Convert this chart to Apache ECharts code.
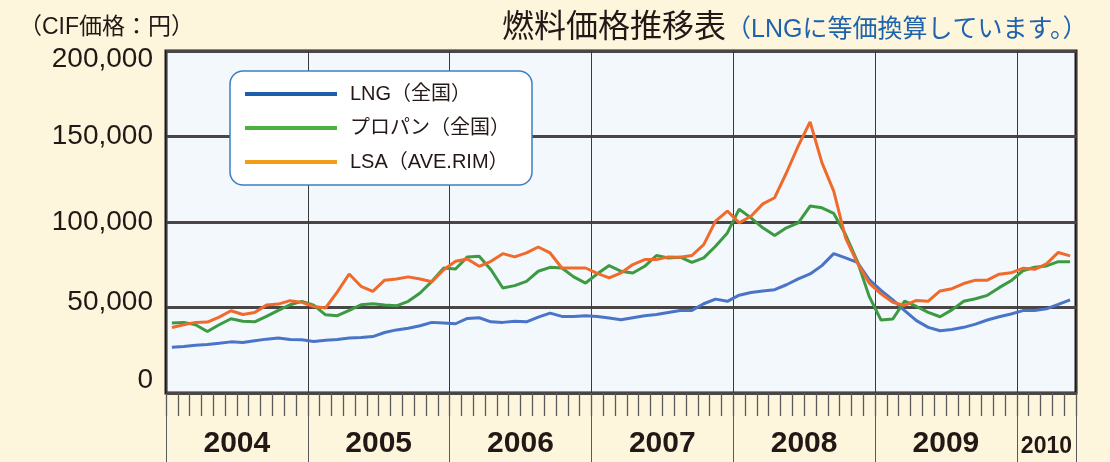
<!DOCTYPE html>
<html>
<head>
<meta charset="utf-8">
<script src="https://cdn.jsdelivr.net/npm/echarts@6/dist/echarts.min.js"></script>
<style>
  html, body { margin: 0; padding: 0; background: #fdf5dc; }
  #chart { width: 1110px; height: 462px; }
</style>
</head>
<body>
<div id="chart"></div>
<script>
// 2004/01 - 2010/05, monthly (yen, CIF)
const years = ['2004', '2005', '2006', '2007', '2008', '2009', '2010']
const monthsLastYear = 5

const lng = [
  26800, 27200, 27900, 28400, 29100, 29900, 29500, 30500, 31500, 32100, 31300, 31100,
  30100, 30900, 31300, 32100, 32500, 33000, 35400, 36900, 37900, 39300, 41300, 40900,
  40500, 43600, 44000, 41600, 41300, 42000, 41600, 44400, 46700, 44800, 44800, 45200,
  44800, 43800, 42800, 44000, 45200, 45900, 47100, 48300, 48300, 52200, 54900, 53600,
  57200, 58800, 59600, 60400, 63300, 66700, 69600, 74500, 81500, 79000, 76400, 66300,
  60000, 54500, 48200, 42300, 38400, 36400, 37100, 38400, 40300, 42700, 44600, 46200,
  48200, 48200, 49200, 51800, 54500
]
const propane = [
  40900, 41300, 39900, 36000, 39900, 43400, 42000, 41600, 44800, 48300, 51600, 53600,
  51400, 45700, 45200, 48300, 51600, 52200, 51400, 51000, 53600, 58500, 65300, 73100,
  72500, 79600, 80000, 72100, 61400, 62800, 65300, 71200, 73500, 73100, 67900, 64300,
  69700, 74500, 71200, 70200, 74100, 80400, 79000, 79400, 76400, 79000, 85800, 93600,
  107500, 102400, 96600, 92100, 96600, 99500, 109300, 108300, 105000, 92700, 77000, 56500,
  42700, 43300, 53700, 50600, 47200, 44600, 48600, 53700, 55100, 57100, 61600, 65600,
  71500, 73500, 74300, 76800, 76800
]
const lsa = [
  38300, 39900, 41300, 41500, 44400, 48100, 45900, 47100, 51400, 52000, 54000, 53000,
  50600, 49700, 59100, 69600, 62400, 59400, 66000, 66700, 67900, 66700, 65100, 72100,
  77000, 78400, 74100, 77000, 81500, 79600, 81900, 85400, 81900, 73100, 73100, 73100,
  70000, 67300, 70200, 75100, 78000, 78000, 79600, 79400, 80400, 86800, 100500, 106400,
  99500, 103400, 110600, 114200, 128800, 144500, 158600, 134700, 118100, 90700, 76000, 64300,
  58000, 53100, 51200, 54100, 53700, 59700, 61000, 64000, 66000, 66000, 69500, 70300,
  72900, 72300, 75500, 82200, 80200
]

const seriesNames = ['LNG（全国）', 'プロパン（全国）', 'LSA（AVE.RIM）']
const lineColors = ['#4a74c8', '#3c9a42', '#f06a2c']
const legendColors = ['#1b5fab', '#4cb23e', '#f39c18']

const months = []
years.forEach((y, yi) => {
  const n = yi === years.length - 1 ? monthsLastYear : 12
  for (let m = 1; m <= n; m++) months.push(y + '/' + (m < 10 ? '0' + m : m))
})

const font = "'Liberation Sans', 'Noto Sans CJK JP', sans-serif"
const ink = '#231815'

const chart = echarts.init(document.getElementById('chart'))

const option = {
  backgroundColor: '#fdf5dc',
  animation: false,
  textStyle: { fontFamily: font, color: ink },
  title: [
    {
      left: 497,
      top: 7,
      text: '{a|燃料価格推移表}{b|（LNGに等価換算しています。）}',
      textStyle: {
        fontWeight: 'normal',
        rich: {
          a: { fontSize: 32, fontWeight: 'normal', color: ink, fontFamily: font },
          b: { fontSize: 25, fontWeight: 'normal', color: '#1d63ad', fontFamily: font, padding: [4, 0, 0, 0] }
        }
      }
    },
    {
      left: 14,
      top: 11,
      text: '（CIF価格：円）',
      textStyle: { fontSize: 23, fontWeight: 'normal', color: ink, fontFamily: font }
    }
  ],
  legend: {
    orient: 'vertical',
    left: 230,
    top: 71,
    padding: [13, 22, 13, 15],
    itemGap: 14,
    itemWidth: 92,
    itemHeight: 4,
    icon: 'rect',
    backgroundColor: '#ffffff',
    borderColor: '#3d7fc2',
    borderWidth: 1.5,
    borderRadius: 13,
    textStyle: { fontSize: 20, color: ink, fontFamily: font, padding: [0, 0, 0, 8] },
    data: seriesNames.map((n, i) => ({ name: n, itemStyle: { color: legendColors[i] } }))
  },
  grid: {
    left: 166,
    right: 34,
    top: 51,
    bottom: 69,
    show: true,
    backgroundColor: '#f3f8fd',
    borderColor: ink,
    borderWidth: 3
  },
  xAxis: [
    {
      type: 'category',
      data: months,
      boundaryGap: true,
      position: 'bottom',
      axisLine: { show: false },
      axisTick: { show: true, interval: 0, length: 23, lineStyle: { color: '#5a5a5a', width: 1.3 } },
      splitLine: {
        show: true,
        interval: (i) => i % 12 === 0,
        lineStyle: { color: '#3a3a3a', width: 1 }
      },
      axisLabel: {
        interval: 0,
        margin: 36,
        formatter: (v, i) => {
          if (i % 12 === 6) return '{y|' + v.slice(0, 4) + '}'
          if (i === 74) return '{s|' + v.slice(0, 4) + '}'
          return ''
        },
        rich: {
          y: { fontSize: 30, fontWeight: 'bold', color: ink, fontFamily: font, padding: [0, 12, 0, 0] },
          s: { fontSize: 23, fontWeight: 'bold', color: ink, fontFamily: font, padding: [6, 0, 0, 0] }
        }
      }
    },
    {
      type: 'category',
      data: months,
      boundaryGap: true,
      position: 'bottom',
      axisLine: { show: false },
      axisTick: { show: true, interval: (i) => i % 12 === 0, length: 70, lineStyle: { color: '#5a5a5a', width: 1 } },
      axisLabel: { show: false },
      splitLine: { show: false }
    }
  ],
  yAxis: {
    type: 'value',
    min: 0,
    max: 200000,
    interval: 50000,
    axisLine: { show: false },
    axisTick: { show: false },
    splitLine: { lineStyle: { color: '#4a4646', width: 3 } },
    axisLabel: {
      margin: 13,
      formatter: (v) => {
        const s = v.toLocaleString('en-US')
        if (v === 200000) return '{t|' + s + '}'
        if (v === 50000) return '{m|' + s + '}'
        if (v === 0) return '{z|' + s + '}'
        return '{n|' + s + '}'
      },
      rich: {
        n: { fontSize: 28, color: ink, fontFamily: font },
        t: { fontSize: 28, color: ink, fontFamily: font, padding: [16, 0, 0, 0] },
        m: { fontSize: 28, color: ink, fontFamily: font, padding: [0, 0, 10, 0] },
        z: { fontSize: 28, color: ink, fontFamily: font, padding: [0, 0, 26, 0] }
      }
    }
  },
  series: [
    { name: seriesNames[0], data: lng },
    { name: seriesNames[1], data: propane },
    { name: seriesNames[2], data: lsa }
  ].map((s, i) => ({
    ...s,
    type: 'line',
    xAxisIndex: 0,
    symbol: 'none',
    smooth: false,
    lineStyle: { width: 3, color: lineColors[i] },
    itemStyle: { color: lineColors[i] }
  }))
}

chart.setOption(option)
</script>
</body>
</html>
